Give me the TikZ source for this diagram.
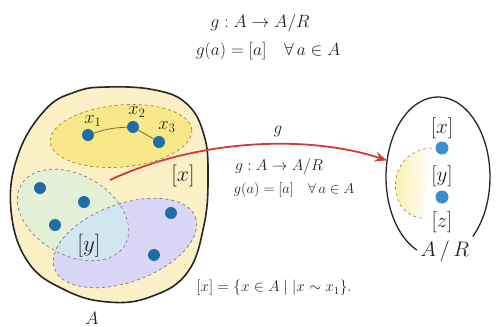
\documentclass[tikz,border=0pt]{standalone}
\usepackage{fix-cm}
\usetikzlibrary{shapes.geometric,arrows.meta}
\definecolor{blobfill}{HTML}{FBF0C6}
\definecolor{xfill}{HTML}{F7E88A}
\definecolor{dashbrown}{HTML}{A08048}
\definecolor{greenfill}{HTML}{E4F0D6}
\definecolor{purplefill}{HTML}{DAD6F6}
\definecolor{overlapfill}{HTML}{D2E6F2}
\definecolor{dashgray}{HTML}{7A7A80}
\definecolor{dotblue}{HTML}{1E6DA6}
\definecolor{dotlight}{HTML}{3A8ED2}
\definecolor{arrowred}{HTML}{D23A3A}
\definecolor{txt}{HTML}{222222}
\tikzset{
  dotA/.style={circle,fill=dotblue,inner sep=0pt,minimum size=12pt},
  dotR/.style={circle,fill=dotlight,inner sep=0pt,minimum size=13pt},
  lbl/.style={text=txt,inner sep=0pt},
  graydash/.style={draw=dashgray,dashed,line width=0.7pt},
  browndash/.style={draw=dashbrown,dashed,line width=0.7pt},
}
\begin{document}
\begin{tikzpicture}[x=1pt,y=-1pt]
\useasboundingbox (0,0) rectangle (496,327);
% big set A
\draw[fill=blobfill,line width=1.6pt,draw=black!85] plot[smooth cycle,tension=0.7] coordinates {
 (107,87) (155,90) (187,104) (204,135) (208,175) (204,225) (187,273) (150,297) (108,302) (65,290) (28,262) (11,210) (18,155) (45,110) (75,92)};
% yellow class
\draw[browndash,fill=xfill,rotate around={5:(121,136)}] (121,136) ellipse [x radius=71, y radius=31];
% green and purple classes
\fill[greenfill,rotate around={-30:(73,215)}] (73,215) ellipse [x radius=60, y radius=40];
\fill[purplefill,rotate around={20:(125,243)}] (125,243) ellipse [x radius=75, y radius=39];
\begin{scope}
 \clip[rotate around={-30:(73,215)}] (73,215) ellipse [x radius=60, y radius=40];
 \fill[overlapfill,rotate around={20:(125,243)}] (125,243) ellipse [x radius=75, y radius=39];
\end{scope}
\draw[graydash,rotate around={-30:(73,215)}] (73,215) ellipse [x radius=60, y radius=40];
\draw[graydash,rotate around={20:(125,243)}] (125,243) ellipse [x radius=75, y radius=39];
% points x1 x2 x3
\node[dotA] (x1) at (88,135) {};
\node[dotA] (x2) at (133,127) {};
\node[dotA] (x3) at (159,142) {};
\draw[dashbrown!80!black,line width=0.8pt] (x1) to[bend left=8] (x2);
\draw[dashbrown!80!black,line width=0.8pt] (x2) -- (x3);
\node[lbl,font=\fontsize{18.5}{19}\selectfont] (lx1) at (93,121) {$x_1$};
\node[lbl,font=\fontsize{18.5}{19}\selectfont] (lx2) at (137,112) {$x_2$};
\node[lbl,font=\fontsize{18.5}{19}\selectfont] (lx3) at (167,127) {$x_3$};
% other points
\node[dotA] (p1) at (40,188) {};
\node[dotA] (p2) at (84,202) {};
\node[dotA] (p3) at (55,225) {};
\node[dotA] (p4) at (171,213) {};
\node[dotA] (p5) at (154,255) {};
\node[lbl,font=\fontsize{22}{23}\selectfont] (lx) at (183,176) {$[x]$};
\node[lbl,font=\fontsize{23}{24}\selectfont] (ly) at (89,246) {$[y]$};
\node[lbl,font=\fontsize{18}{19}\selectfont] (lA) at (92,318) {$A$};
% quotient set
\node[ellipse,minimum width=104pt,minimum height=160pt,inner sep=0pt] (AR) at (438,177) {};
\draw[black!85,line width=1.3pt] (AR.center) ++(114:52 and 80) arc[start angle=114,end angle=408,x radius=52,y radius=80];
\shade[left color=xfill!85,right color=white] (432,148) .. controls (385,150) and (385,215) .. (422,218) -- cycle;
\draw[browndash,line width=0.6pt] (432,148) .. controls (385,150) and (385,215) .. (422,218);
\node[dotR] (qx) at (442,148) {};
\node[dotR] (qy) at (442,197) {};
\node[lbl,font=\fontsize{21}{22}\selectfont] (lqx) at (442,128) {$[x]$};
\node[lbl,font=\fontsize{21}{22}\selectfont] (lqy) at (442,176) {$[y]$};
\node[lbl,font=\fontsize{21}{22}\selectfont] (lqz) at (442,222) {$[z]$};
\node[lbl,font=\fontsize{21}{22}\selectfont] (lAR) at (445,251) {$A\,/\,R$};
% arrow g
\coordinate (gstart) at (110,180);
\draw[arrowred,line width=1.8pt,-{Stealth[length=12pt,width=10pt]}] (gstart) .. controls (200,138) and (310,135) .. (AR.162);
\node[lbl,font=\fontsize{17}{18}\selectfont] (lg) at (278,131) {$g$};
\node[lbl,font=\fontsize{15.7}{16}\selectfont] (f1) at (279,167) {$g: A \rightarrow A/R$};
\node[lbl,font=\fontsize{14.4}{15}\selectfont] (f2) at (294,190) {$g(a)=[a]\quad \forall\, a\in A$};
% title
\node[lbl,font=\fontsize{17.8}{19}\selectfont] (t1) at (260,23) {$g: A \rightarrow A/R$};
\node[lbl,font=\fontsize{17.6}{18}\selectfont] (t2) at (268,51) {$g(a)=[a]\quad \forall\, a\in A$};
% class definition
\node[lbl,font=\fontsize{15.3}{16}\selectfont] (def) at (274,288) {$[x]=\{x\in A\mid |x\sim x_1\}.$};
\end{tikzpicture}
\end{document}
